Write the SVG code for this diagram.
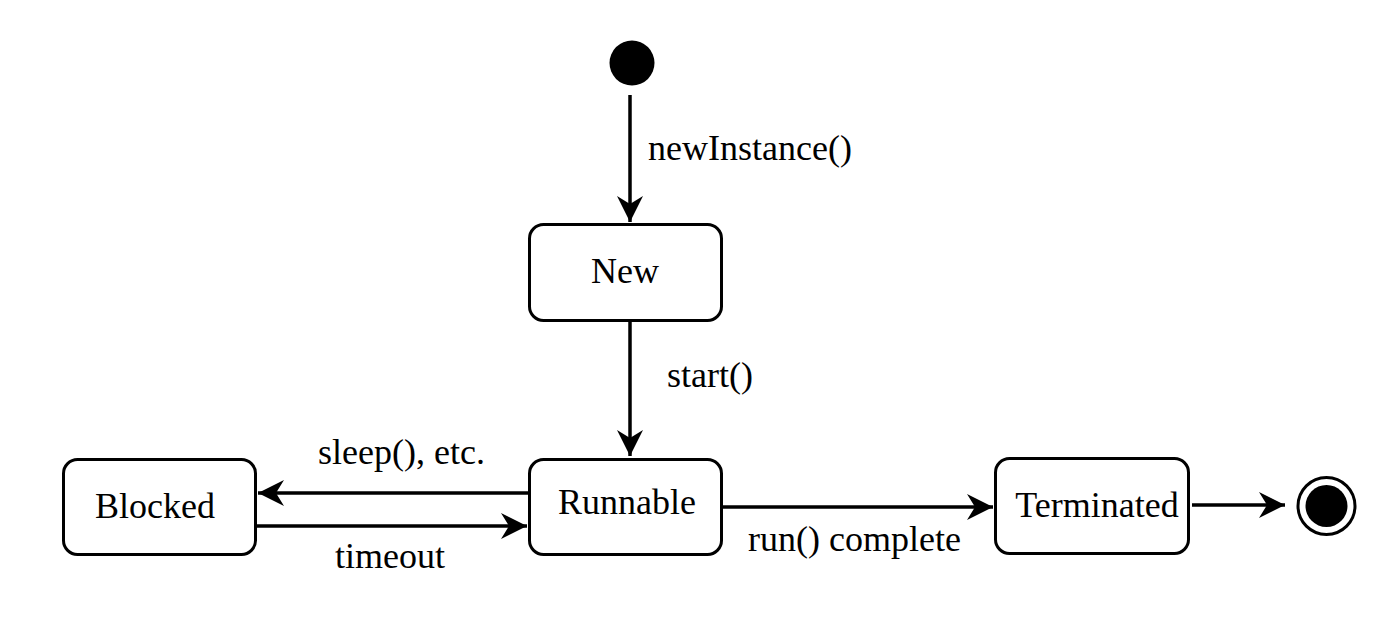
<svg xmlns="http://www.w3.org/2000/svg" width="1398" height="634" viewBox="0 0 1398 634">
<style>
.state{fill:#fff;stroke:#000;stroke-width:3}
.lbl{font-family:"Liberation Serif","Times New Roman",serif;font-size:36px;fill:#000}
.edge{stroke:#000;stroke-width:3.5;fill:none}
</style>
<defs>
<marker id="arr" markerUnits="userSpaceOnUse" markerWidth="30" markerHeight="30" viewBox="0 0 30 30" refX="28" refY="15" orient="auto">
<path d="M2,2 L28,15 L2,28 L10,15 Z" fill="#000"/>
</marker>
</defs>
<rect width="1398" height="634" fill="#fff"/>
<g id="edges">
<line class="edge" x1="630" y1="95" x2="630" y2="222" marker-end="url(#arr)"/>
<line class="edge" x1="630" y1="322" x2="630" y2="456" marker-end="url(#arr)"/>
<line class="edge" x1="528" y1="493" x2="258" y2="493" marker-end="url(#arr)"/>
<line class="edge" x1="256" y1="526" x2="527" y2="526" marker-end="url(#arr)"/>
<line class="edge" x1="722" y1="507" x2="993" y2="507" marker-end="url(#arr)"/>
<line class="edge" x1="1192" y1="505" x2="1285" y2="505" marker-end="url(#arr)"/>
<text class="lbl" x="648" y="160">newInstance()</text>
<text class="lbl" x="667" y="387">start()</text>
<text class="lbl" x="318" y="464">sleep(), etc.</text>
<text class="lbl" x="335" y="568">timeout</text>
<text class="lbl" x="748" y="551">run() complete</text>
</g>
<g id="start"><circle cx="632" cy="63" r="22.5" fill="#000"/></g>
<g id="new"><rect class="state" x="529.5" y="224.5" width="192" height="96" rx="14"/><text class="lbl" x="625" y="283" text-anchor="middle">New</text></g>
<g id="runnable"><rect class="state" x="529.5" y="459.5" width="192" height="95" rx="14"/><text class="lbl" x="627" y="514" text-anchor="middle">Runnable</text></g>
<g id="blocked"><rect class="state" x="63.5" y="459.5" width="192" height="95" rx="14"/><text class="lbl" x="155" y="518" text-anchor="middle">Blocked</text></g>
<g id="terminated"><rect class="state" x="995.5" y="458.5" width="193" height="95" rx="14"/><text class="lbl" x="1097" y="517" text-anchor="middle">Terminated</text></g>
<g id="end"><circle cx="1326.5" cy="506" r="28.5" fill="#fff" stroke="#000" stroke-width="3"/><circle cx="1326.5" cy="506" r="21" fill="#000"/></g>
</svg>
